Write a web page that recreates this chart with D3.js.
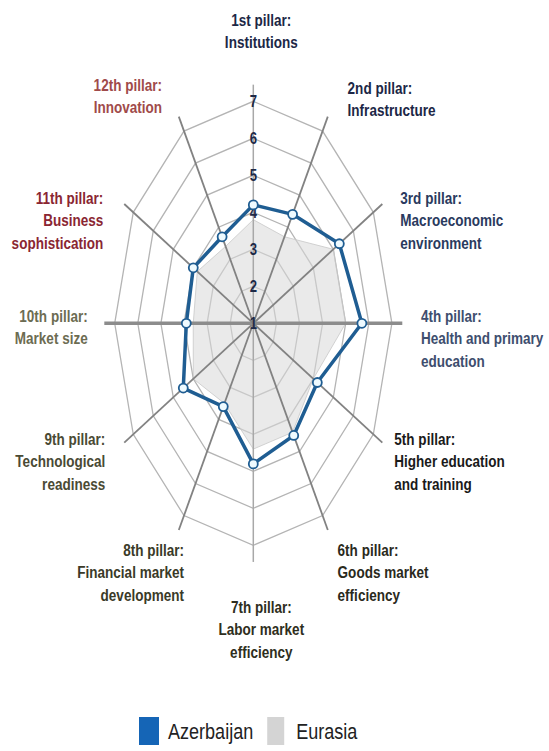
<!DOCTYPE html>
<html lang="en">
<head>
  <meta charset="UTF-8">
  <title>Global Competitiveness pillars: Azerbaijan vs Eurasia</title>
  <script src="https://d3js.org/d3.v7.min.js"></script>
  <style>
    body {
      margin: 0;
      background: #fff;
    }
    text {
      font-family: 'Liberation Sans', Arial, sans-serif;
    }
    .pillar {
      font-size: 16.5px;
      font-weight: bold;
    }
    .tick-label {
      font-size: 16px;
      font-weight: bold;
      fill: #1e2a48;
      text-anchor: middle;
    }
    .legend text {
      font-size: 22px;
      fill: #222;
    }
  </style>
</head>
<body>
  <div id="chart"></div>

  <script>
    // pillar names, two or three lines each
    const pillars = [
      ["1st pillar:", "Institutions"],
      ["2nd pillar:", "Infrastructure"],
      ["3rd pillar:", "Macroeconomic", "environment"],
      ["4th pillar:", "Health and primary", "education"],
      ["5th pillar:", "Higher education", "and training"],
      ["6th pillar:", "Goods market", "efficiency"],
      ["7th pillar:", "Labor market", "efficiency"],
      ["8th pillar:", "Financial market", "development"],
      ["9th pillar:", "Technological", "readiness"],
      ["10th pillar:", "Market size"],
      ["11th pillar:", "Business", "sophistication"],
      ["12th pillar:", "Innovation"]
    ];

    const azerbaijan = [4.2, 4.4, 5.3, 5.7, 4.2, 4.5, 4.8, 3.6, 4.5, 3.9, 4.0, 3.7];
    const eurasia    = [3.8, 3.7, 5.0, 5.0, 4.0, 4.4, 4.4, 3.5, 4.0, 3.6, 3.8, 3.4];

    const ticks = [1, 2, 3, 4, 5, 6, 7];
    const seriesNames = ["Azerbaijan", "Eurasia"];

    // label styling: colour, text anchor and nudge from the outer ring vertex
    const labelColor = ["#1c2746", "#1c2746", "#2a3a5e", "#3e4e6e", "#1a1a1a", "#2a2a1c",
                        "#2e2e20", "#3a3a28", "#4a4a34", "#6c6c52", "#8a2632", "#a04a4a"];
    const labelAnchor = ["middle", "start", "start", "start", "start", "start",
                         "middle", "end", "end", "end", "end", "end"];
    const labelNudge = [[8, -70], [25, -32], [27, 8], [29, 15], [21, 27], [15, 57],
                        [8, 84], [0, 57], [-28, 27], [-27, 4], [-30, 8], [-22, -35]];

    const width = 549;
    const height = 751;
    const cx = 253.3, cy = 323.3;
    const lineH = 22.5;
    const squeeze = 0.82; // condensed look of the original type

    const svg = d3.select("#chart")
      .append("svg")
      .attr("width", width)
      .attr("height", height);

    // the chart is stretched: horizontal and vertical radii differ
    const rx = d3.scaleLinear().domain([1, 7]).range([0, 138.6]);
    const ry = d3.scaleLinear().domain([1, 7]).range([0, 222]);
    const angle = d3.scaleLinear().domain([0, pillars.length]).range([0, 2 * Math.PI]);

    const pt = (i, v) => [cx + Math.sin(angle(i)) * rx(v), cy - Math.cos(angle(i)) * ry(v)];
    const polyLine = d3.line().curve(d3.curveLinearClosed);

    // rings
    svg.append("g")
      .selectAll("path")
      .data(ticks.slice(1))
      .join("path")
        .attr("d", v => polyLine(pillars.map((p, i) => pt(i, v))))
        .attr("fill", "none")
        .attr("stroke", "#b4b4b4")
        .attr("stroke-width", 1.3);

    // Eurasia area
    svg.append("path")
      .attr("d", polyLine(eurasia.map((v, i) => pt(i, v))))
      .attr("fill", "#d8d8d8")
      .attr("fill-opacity", 0.55)
      .attr("stroke", "#c8c8c8")
      .attr("stroke-width", 0.8);

    // spokes
    svg.append("g")
      .selectAll("line")
      .data(pillars.map((p, i) => i))
      .join("line")
        .attr("x1", cx)
        .attr("y1", cy)
        .attr("x2", i => pt(i, 7.45)[0])
        .attr("y2", i => pt(i, 7.45)[1])
        .attr("stroke", i => i % 6 === 0 ? "#a8a8a8" : (i % 3 === 0 ? "#8c8c8c" : "#828282"))
        .attr("stroke-width", i => i % 6 === 0 ? 1.5 : (i % 3 === 0 ? 3.5 : 1.8));

    // tick labels up the vertical axis
    svg.append("g")
      .selectAll("text")
      .data(ticks)
      .join("text")
        .attr("class", "tick-label")
        .attr("transform", v => `translate(${cx},${cy - ry(v) + 6}) scale(${squeeze},1)`)
        .text(d => d);

    // Azerbaijan line and markers
    svg.append("path")
      .attr("d", polyLine(azerbaijan.map((v, i) => pt(i, v))))
      .attr("fill", "none")
      .attr("stroke", "#1f5d92")
      .attr("stroke-width", 3.5)
      .attr("stroke-linejoin", "round");

    svg.append("g")
      .selectAll("circle")
      .data(azerbaijan)
      .join("circle")
        .attr("cx", (v, i) => pt(i, v)[0])
        .attr("cy", (v, i) => pt(i, v)[1])
        .attr("r", 4.5)
        .attr("fill", "#eefaff")
        .attr("stroke", "#1f5d92")
        .attr("stroke-width", 1.8);

    // pillar labels
    const labels = svg.append("g")
      .selectAll("text")
      .data(pillars)
      .join("text")
        .attr("class", "pillar")
        .attr("fill", (d, i) => labelColor[i])
        .attr("text-anchor", (d, i) => labelAnchor[i])
        .attr("transform", (d, i) => {
          const [x, y] = pt(i, 7);
          const [dx, dy] = labelNudge[i];
          const top = y + dy - (d.length - 1) * lineH / 2;
          return `translate(${x + dx},${top}) scale(${squeeze},1)`;
        });

    labels.selectAll("tspan")
      .data(d => d)
      .join("tspan")
        .attr("x", 0)
        .attr("y", (d, j) => j * lineH)
        .attr("dy", "0.35em")
        .text(d => d);

    // legend
    const legendColor = ["#1565b6", "#d4d4d4"];
    const legend = svg.append("g")
      .attr("class", "legend")
      .attr("transform", "translate(139,717)");

    let lx = 0;
    seriesNames.forEach((name, i) => {
      legend.append("rect")
        .attr("x", lx)
        .attr("y", 0)
        .attr("width", i === 0 ? 20 : 17)
        .attr("height", 28)
        .attr("fill", legendColor[i]);
      const t = legend.append("text")
        .attr("transform", `translate(${lx + 29},22) scale(${squeeze},1)`)
        .text(name);
      lx += 29 + t.node().getComputedTextLength() * squeeze + 14;
    });
  </script>
</body>
</html>
